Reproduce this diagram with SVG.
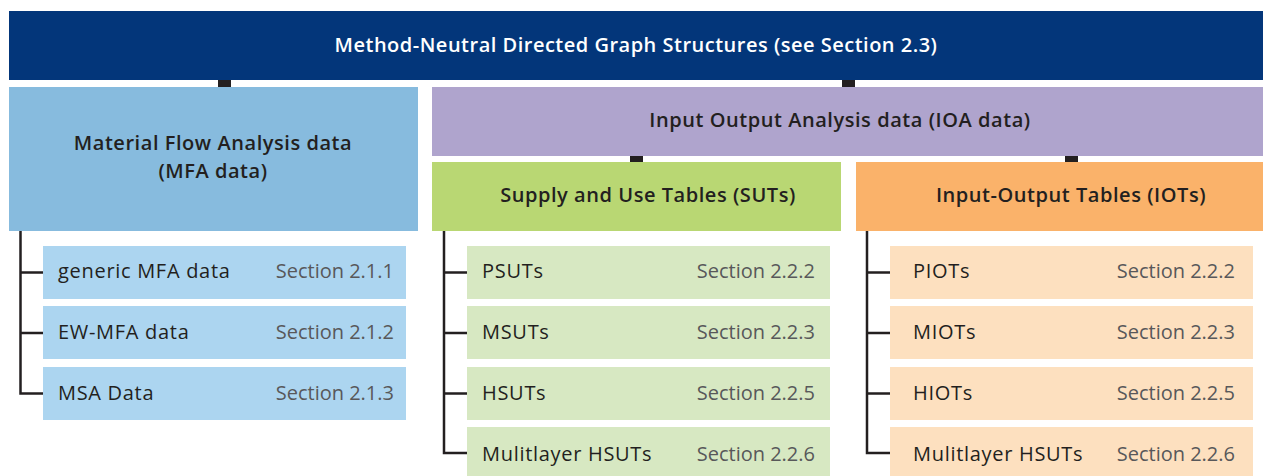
<svg xmlns="http://www.w3.org/2000/svg" width="1263" height="476" viewBox="0 0 1263 476">
<style>
text{font-family:"Open Sans","Lato","Liberation Sans",sans-serif}
.h{font-size:20px;font-weight:600;fill:#231f20;text-anchor:middle;letter-spacing:0.55px}
.t{font-size:20px;font-weight:600;fill:#ffffff;text-anchor:middle;letter-spacing:0.5px}
.c{font-size:20px;font-weight:400;fill:#231f20;letter-spacing:0.7px}
.s{font-size:20px;font-weight:400;fill:#58585a;text-anchor:end}
.ln{fill:none;stroke:#231f20;stroke-width:2.5}
.cn{fill:#231f20}
.m{fill:#acd5f0}.u{fill:#d7e8c2}.o{fill:#fde0bf}
</style>
<rect width="1263" height="476" fill="#ffffff"/>
<g id="connectors">
<rect class="cn" x="218" y="80" width="13" height="7"/>
<rect class="cn" x="842" y="80" width="13" height="7"/>
<rect class="cn" x="630" y="156" width="13" height="6"/>
<rect class="cn" x="1065" y="156" width="13" height="6"/>
<path class="ln" d="M20.5 231V393.5H43M20.5 272.5H43M20.5 333H43"/>
<path class="ln" d="M444 231V453H467M444 272.5H467M444 333H467M444 393.5H467"/>
<path class="ln" d="M867 231V453H890M867 272.5H890M867 333H890M867 393.5H890"/>
</g>
<g id="root"><rect x="9" y="11" width="1254" height="69" fill="#03367a"/><text class="t" x="636" y="52">Method-Neutral Directed Graph Structures (see Section 2.3)</text></g>
<g id="mfa"><rect x="9" y="87" width="409" height="144" fill="#87bbde"/><text class="h" x="213" y="150">Material Flow Analysis data</text><text class="h" x="213" y="178">(MFA data)</text></g>
<g id="ioa"><rect x="432" y="87" width="831" height="69" fill="#afa4cd"/><text class="h" x="840" y="127">Input Output Analysis data (IOA data)</text></g>
<g id="suts"><rect x="432" y="162" width="409" height="69" fill="#b9d773"/><text class="h" x="648" y="202">Supply and Use Tables (SUTs)</text></g>
<g id="iots"><rect x="856" y="162" width="407" height="69" fill="#fab26a"/><text class="h" x="1071" y="202">Input-Output Tables (IOTs)</text></g>
<g id="mfa1"><rect class="m" x="43" y="246" width="363" height="53"/><text class="c" x="58" y="278">generic MFA data</text><text class="s" x="394" y="278">Section 2.1.1</text></g>
<g id="mfa2"><rect class="m" x="43" y="306" width="363" height="53"/><text class="c" x="58" y="339">EW-MFA data</text><text class="s" x="394" y="339">Section 2.1.2</text></g>
<g id="mfa3"><rect class="m" x="43" y="367" width="363" height="53"/><text class="c" x="58" y="400">MSA Data</text><text class="s" x="394" y="400">Section 2.1.3</text></g>
<g id="sut1"><rect class="u" x="467" y="246" width="363" height="53"/><text class="c" x="482" y="278">PSUTs</text><text class="s" x="815" y="278">Section 2.2.2</text></g>
<g id="sut2"><rect class="u" x="467" y="306" width="363" height="53"/><text class="c" x="482" y="339">MSUTs</text><text class="s" x="815" y="339">Section 2.2.3</text></g>
<g id="sut3"><rect class="u" x="467" y="367" width="363" height="53"/><text class="c" x="482" y="400">HSUTs</text><text class="s" x="815" y="400">Section 2.2.5</text></g>
<g id="sut4"><rect class="u" x="467" y="427" width="363" height="53"/><text class="c" x="482" y="461">Mulitlayer HSUTs</text><text class="s" x="815" y="461">Section 2.2.6</text></g>
<g id="iot1"><rect class="o" x="890" y="246" width="363" height="53"/><text class="c" x="913" y="278">PIOTs</text><text class="s" x="1235" y="278">Section 2.2.2</text></g>
<g id="iot2"><rect class="o" x="890" y="306" width="363" height="53"/><text class="c" x="913" y="339">MIOTs</text><text class="s" x="1235" y="339">Section 2.2.3</text></g>
<g id="iot3"><rect class="o" x="890" y="367" width="363" height="53"/><text class="c" x="913" y="400">HIOTs</text><text class="s" x="1235" y="400">Section 2.2.5</text></g>
<g id="iot4"><rect class="o" x="890" y="427" width="363" height="53"/><text class="c" x="913" y="461">Mulitlayer HSUTs</text><text class="s" x="1235" y="461">Section 2.2.6</text></g>
</svg>
